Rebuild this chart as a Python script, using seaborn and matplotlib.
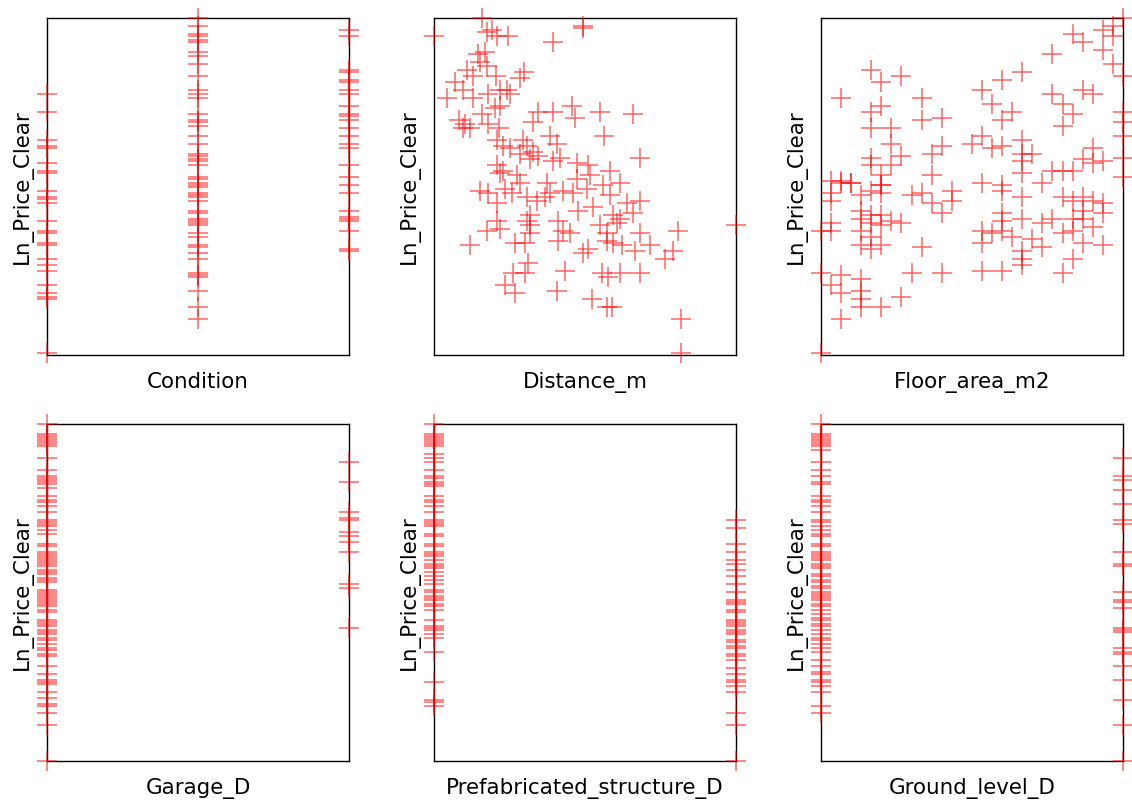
import matplotlib
matplotlib.use("Agg")
import matplotlib.pyplot as plt
import seaborn as sns
import pandas as pd

# ---- Ln_Price_Clear against each explanatory variable ----
distance_m = [100, 583, 627, 677, 727, 843, 1587, 1593, 1293, 543, 610, 560, 627, 427, 493,
              720, 1000, 960, 310, 387, 493, 227, 643, 760, 833, 860, 760, 710, 353, 410,
              460, 393, 577, 643, 750, 1143, 1093, 1293, 1477, 1510, 1760, 2093, 1803, 1260,
              1327, 2160, 727, 793, 993, 1027, 860, 1093, 960, 1060, 1143, 1293, 1360, 1527,
              1643, 1860, 1960, 1660, 1527, 727, 793, 760, 927, 960, 1227, 560, 643, 727, 810,
              877, 1027, 1127, 1210, 1260, 1393, 1493, 1627, 1793, 1860, 2027, 2160, 2093,
              1960, 1893, 1927, 1827, 1760, 1693, 1543, 1460, 1393, 1343, 1343, 1060, 1027,
              1060, 1060, 760, 627, 727, 460, 910, 1010, 1593, 1643, 1827, 1893, 1977, 2110,
              2260, 2410, 2493, 2160, 2543, 3120, 1043, 1010, 893, 810, 910, 1410, 1327, 1677,
              1827, 1877, 1777, 1843, 1960, 2160, 2570, 2570]
price_by_distance = [12.50, 12.59, 12.52, 12.53, 12.50, 12.50, 12.54, 12.55, 12.47, 12.41, 12.42,
                     12.37, 12.35, 12.33, 12.30, 12.30, 12.32, 12.29, 12.27, 12.23, 12.19, 12.19,
                     12.21, 12.23, 12.23, 12.21, 12.15, 12.14, 12.08, 12.06, 12.04, 12.04, 12.11,
                     12.06, 12.04, 12.12, 12.07, 12.12, 12.15, 12.09, 12.12, 12.11, 12.00, 12.00,
                     11.96, 11.89, 11.98, 11.95, 11.98, 11.95, 11.94, 11.92, 11.91, 11.88, 11.90,
                     11.87, 11.89, 11.86, 11.85, 11.82, 11.76, 11.80, 11.78, 11.85, 11.82, 11.81,
                     11.80, 11.76, 11.76, 11.72, 11.71, 11.66, 11.73, 11.71, 11.69, 11.67, 11.69,
                     11.71, 11.72, 11.71, 11.73, 11.75, 11.70, 11.66, 11.67, 11.61, 11.58, 11.60,
                     11.56, 11.51, 11.55, 11.64, 11.62, 11.51, 11.52, 11.57, 11.47, 11.60, 11.57,
                     11.55, 11.51, 11.53, 11.52, 11.57, 11.45, 11.46, 11.46, 11.41, 11.43, 11.47,
                     11.46, 11.45, 11.42, 11.45, 11.38, 11.42, 11.51, 11.52, 11.55, 11.36, 11.31,
                     11.31, 11.25, 11.21, 11.32, 11.22, 11.18, 11.14, 11.14, 11.31, 11.29, 11.31,
                     11.31, 11.08, 10.91]

floor_area_m2 = [120, 117, 114, 117, 114, 117, 120, 105, 108, 99, 90, 84, 45, 48, 54, 36, 60, 78,
                 81, 84, 87, 99, 108, 111, 102, 105, 102, 48, 45, 45, 51, 60, 66, 51, 54, 45, 45,
                 48, 48, 51, 66, 63, 63, 75, 78, 84, 81, 90, 90, 93, 90, 90, 102, 105, 99, 96, 111,
                 108, 111, 114, 120, 120, 120, 120, 120, 36, 39, 33, 78, 84,
                 33, 36, 39, 33, 33, 33, 30, 42, 45, 48, 48, 42, 45, 42, 48, 51, 54, 45, 48, 42,
                 45, 42, 45, 48, 57, 60, 63, 66, 69, 69, 60, 57, 66, 30, 36, 33, 36, 42, 42, 42,
                 48, 42, 54, 36, 30, 84, 90, 84, 90, 84, 81, 78, 78, 87, 84, 96, 99, 93, 96, 90,
                 90, 90, 102, 105, 108, 111, 114, 114, 108, 105, 108, 102, 105, 111, 108, 114,
                 105, 102, 78, 84]
price_by_floor = [12.59, 12.55, 12.53, 12.50, 12.43, 12.36, 12.30, 12.51, 12.47, 12.41, 12.32,
                  12.28, 12.33, 12.27, 12.30, 12.19, 12.19, 12.23, 12.16, 12.08, 12.12, 12.21,
                  12.23, 12.21, 12.16, 12.11, 12.05, 12.15, 12.12, 12.04, 12.04, 12.08, 12.09,
                  11.96, 11.90, 11.89, 11.85, 11.80, 11.75, 11.85, 11.95, 11.91, 11.80, 11.96,
                  12.00, 11.95, 11.94, 11.98, 11.91, 11.91, 11.87, 11.81, 11.82, 11.82, 11.82,
                  11.76, 11.94, 11.88, 11.86, 11.87, 12.12, 12.07, 12.00, 11.89, 11.79, 11.77,
                  11.76, 11.77, 11.76, 11.75,
                  11.71, 11.76, 11.76, 11.67, 11.56, 11.52, 11.52, 11.70, 11.72, 11.75, 11.71,
                  11.62, 11.60, 11.58, 11.60, 11.57, 11.56, 11.56, 11.55, 11.52, 11.49, 11.45,
                  11.43, 11.45, 11.70, 11.71, 11.66, 11.61, 11.72, 11.67, 11.44, 11.31, 11.31,
                  11.31, 11.30, 11.25, 11.21, 11.28, 11.22, 11.18, 11.14, 11.14, 11.19, 11.08,
                  10.91, 11.72, 11.69, 11.61, 11.58, 11.57, 11.51, 11.52, 11.46, 11.49, 11.52,
                  11.56, 11.58, 11.48, 11.44, 11.42, 11.38, 11.35, 11.69, 11.67, 11.69, 11.67,
                  11.66, 11.61, 11.62, 11.58, 11.58, 11.51, 11.52, 11.54, 11.46, 11.45, 11.38,
                  11.31, 11.32, 11.32]

# Condition: 1, 2, 3
price_condition_1 = [12.21, 12.12, 11.98, 11.95, 11.94, 11.86, 11.82, 11.81, 11.72, 11.69, 11.68,
                     11.66, 11.57, 11.52, 11.51, 11.46, 11.45, 11.38, 11.35, 11.32, 11.25, 11.21,
                     11.19, 11.18, 10.91]
price_condition_2 = [12.59, 12.55, 12.51, 12.50, 12.48, 12.47, 12.42, 12.40, 12.36, 12.30, 12.23,
                     12.21, 12.19, 12.11, 12.08, 12.07, 12.05, 12.00, 11.96, 11.91, 11.90, 11.88,
                     11.87, 11.85, 11.79, 11.78, 11.76, 11.75, 11.74, 11.71, 11.70, 11.69, 11.67,
                     11.62, 11.61, 11.58, 11.57, 11.56, 11.55, 11.51, 11.49, 11.45, 11.44, 11.41,
                     11.38, 11.31, 11.30, 11.29, 11.22, 11.14, 11.08]
price_condition_3 = [12.53, 12.50, 12.33, 12.32, 12.28, 12.27, 12.23, 12.21, 12.15, 12.11, 12.10,
                     12.08, 12.04, 12.00, 11.96, 11.94, 11.85, 11.79, 11.75, 11.71, 11.62, 11.59,
                     11.58, 11.57, 11.52, 11.43, 11.42]

# Garage_D: 0 / 1
price_garage_0 = [12.59, 12.54, 12.53, 12.52, 12.51, 12.50, 12.49, 12.48, 12.42, 12.36, 12.33,
                  12.32, 12.31, 12.30, 12.29, 12.27, 12.23, 12.21, 12.20, 12.18, 12.15, 12.11,
                  12.10, 12.09, 12.08, 12.06, 12.04, 11.99, 11.98, 11.95, 11.94, 11.93, 11.92,
                  11.91, 11.90, 11.89, 11.88, 11.86, 11.85, 11.84, 11.82, 11.81, 11.80, 11.76,
                  11.75, 11.74, 11.73, 11.72, 11.71, 11.70, 11.69, 11.68, 11.66, 11.65, 11.61,
                  11.60, 11.59, 11.58, 11.56, 11.55, 11.54, 11.52, 11.51, 11.49, 11.47, 11.46,
                  11.44, 11.43, 11.38, 11.34, 11.31, 11.30, 11.29, 11.25, 11.22, 11.19, 11.18,
                  11.14, 11.08, 10.90]
price_garage_1 = [12.40, 12.30, 12.15, 12.12, 12.11, 12.05, 12.03, 12.00, 11.95, 11.79, 11.77,
                  11.57]

# Prefabricated_structure_D: 0 / 1
price_prefab_0 = [12.59, 12.54, 12.53, 12.52, 12.51, 12.50, 12.49, 12.48, 12.44, 12.42, 12.40,
                  12.36, 12.33, 12.32, 12.30, 12.29, 12.28, 12.23, 12.21, 12.20, 12.18, 12.15,
                  12.11, 12.10, 12.09, 12.08, 12.04, 12.03, 11.99, 11.98, 11.95, 11.94, 11.93,
                  11.91, 11.89, 11.88, 11.87, 11.85, 11.83, 11.81, 11.79, 11.76, 11.75, 11.73,
                  11.72, 11.71, 11.69, 11.68, 11.66, 11.61, 11.58, 11.57, 11.56, 11.54, 11.52,
                  11.45, 11.30, 11.21, 11.20, 11.18]
price_prefab_1 = [12.11, 12.07, 11.99, 11.95, 11.91, 11.89, 11.86, 11.83, 11.79, 11.75, 11.71,
                  11.70, 11.69, 11.66, 11.65, 11.61, 11.60, 11.59, 11.58, 11.56, 11.55, 11.54,
                  11.51, 11.50, 11.48, 11.47, 11.44, 11.43, 11.41, 11.37, 11.34, 11.31, 11.30,
                  11.28, 11.25, 11.14, 11.08, 10.90]

# Ground_level_D: 0 / 1
price_ground_0 = [12.59, 12.54, 12.53, 12.52, 12.51, 12.50, 12.49, 12.48, 12.46, 12.40, 12.36,
                  12.33, 12.30, 12.29, 12.23, 12.21, 12.20, 12.18, 12.15, 12.11, 12.10, 12.08,
                  12.06, 12.04, 12.03, 11.99, 11.98, 11.95, 11.94, 11.93, 11.92, 11.91, 11.89,
                  11.88, 11.87, 11.84, 11.83, 11.81, 11.80, 11.78, 11.77, 11.75, 11.74, 11.73,
                  11.72, 11.71, 11.69, 11.68, 11.66, 11.64, 11.62, 11.61, 11.59, 11.58, 11.56,
                  11.54, 11.52, 11.51, 11.49, 11.47, 11.45, 11.41, 11.38, 11.35, 11.34, 11.31,
                  11.30, 11.28, 11.25, 11.18, 11.14]
price_ground_1 = [12.42, 12.33, 12.31, 12.26, 12.19, 12.11, 12.09, 11.95, 11.89, 11.88, 11.75,
                  11.71, 11.70, 11.67, 11.57, 11.56, 11.55, 11.47, 11.45, 11.44, 11.38, 11.31,
                  11.21, 11.08, 10.90]


def grouped(levels, groups, name):
    xs, ys = [], []
    for lev, vals in zip(levels, groups):
        xs += [lev] * len(vals)
        ys += list(vals)
    return pd.DataFrame({name: xs, "Ln_Price_Clear": ys})


panels = [
    grouped([1, 2, 3], [price_condition_1, price_condition_2, price_condition_3], "Condition"),
    pd.DataFrame({"Distance_m": distance_m, "Ln_Price_Clear": price_by_distance}),
    pd.DataFrame({"Floor_area_m2": floor_area_m2, "Ln_Price_Clear": price_by_floor}),
    grouped([0, 1], [price_garage_0, price_garage_1], "Garage_D"),
    grouped([0, 1], [price_prefab_0, price_prefab_1], "Prefabricated_structure_D"),
    grouped([0, 1], [price_ground_0, price_ground_1], "Ground_level_D"),
]

sns.set_style("white", {"axes.edgecolor": "black", "text.color": "black",
                        "axes.labelcolor": "black"})
plt.rcParams["font.family"] = ["DejaVu Sans"]

fig, axes = plt.subplots(2, 3, figsize=(11.32, 8.02), dpi=100)
fig.subplots_adjust(left=0.0415, right=0.992, bottom=0.0507, top=0.9776,
                    wspace=0.2815, hspace=0.2066)

all_y = pd.concat([d["Ln_Price_Clear"] for d in panels])
y_lo, y_hi = all_y.min(), all_y.max()

for ax, df in zip(axes.flat, panels):
    xname = df.columns[0]
    sns.scatterplot(data=df, x=xname, y="Ln_Price_Clear", ax=ax, marker="+",
                    color="red", s=210, linewidth=1.1,
                    clip_on=False, zorder=3, legend=False)
    pts = ax.collections[-1]
    pts.set_edgecolor((1.0, 0.0, 0.0, 0.6))
    pts.set_facecolor((1.0, 0.0, 0.0, 0.6))
    ax.set_xlim(df[xname].min(), df[xname].max())
    ax.set_ylim(y_lo, y_hi)
    ax.set_xticks([])
    ax.set_yticks([])
    for sp in ax.spines.values():
        sp.set_visible(True)
        sp.set_color("black")
        sp.set_linewidth(1.0)
    ax.set_xlabel(xname, fontsize=15.4, labelpad=12, color="black")
    ax.set_ylabel("Ln_Price_Clear", fontsize=15.4, labelpad=10, color="black")

fig.savefig("out.png", dpi=100)
